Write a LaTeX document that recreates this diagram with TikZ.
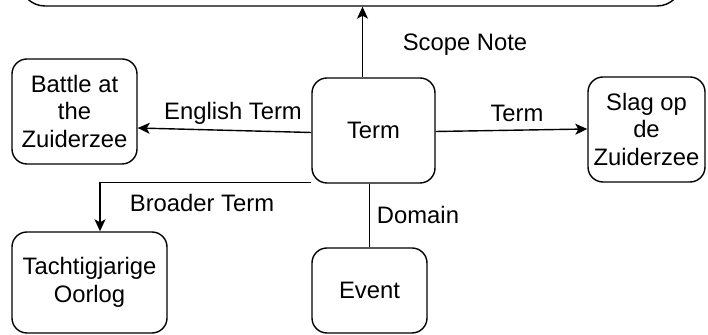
\documentclass[tikz,border=0pt]{standalone}
\usepackage{fontspec}
\setmainfont{Liberation Sans}
\usetikzlibrary{arrows.meta}

\begin{document}
\begin{tikzpicture}[x=0.5pt,y=-0.5pt,
    box/.style={draw,line width=0.7pt,rounded corners=7.5pt,align=center,
      inner sep=0pt,font=\fontsize{11.9}{14}\selectfont},
    lbl/.style={font=\fontsize{11.9}{14}\selectfont,inner sep=0pt},
    link/.style={line width=0.7pt,-{Stealth[length=6pt,width=5.5pt,inset=1.5pt]}}]
      \useasboundingbox (0,0) rectangle (708,335);
      \node [box,rounded corners=12.5pt,minimum width=331pt,minimum height=33pt] (scope) at (351,-27) {};
      \node [box,minimum width=62.5pt,minimum height=52.5pt] (battle) at (74.5,111.5) {Battle at\\the\\Zuiderzee};
      \node [box,minimum width=61.5pt,minimum height=52.5pt] (term) at (373.5,130.5) {Term};
      \node [box,minimum width=58.5pt,minimum height=52.5pt] (slag) at (646.5,129.5) {Slag op\\de\\Zuiderzee};
      \node [box,minimum width=77.5pt,minimum height=50.5pt] (tacht) at (89.5,282.5) {Tachtigjarige\\Oorlog};
      \node [box,minimum width=57.5pt,minimum height=42.5pt] (event) at (369.5,290.5) {Event};
      \coordinate (sn) at ([xshift=-5.5pt]term.north);
      \draw [link] (sn) -- (sn |- scope.south);
      \draw [link] ([yshift=-1pt]term.west) -- (battle.east |- 0,128);
      \draw [link] ([yshift=-0.5pt]term.east) -- (slag.west |- 0,129);
      \draw [link] ([yshift=0.5pt]term.south west) -| ([xshift=5.25pt]tacht.north);
      \draw [line width=0.7pt] (event.north |- term.south) -- (event.north);
      \node [lbl] (lsn) at (465,45) {Scope Note};
      \node [lbl] (let) at (233,113) {English Term};
      \node [lbl] (lt) at (517,113) {Term};
      \node [lbl] (lbt) at (202,203) {Broader Term};
      \node [lbl] (ld) at (418,215) {Domain};
\end{tikzpicture}
\end{document}
